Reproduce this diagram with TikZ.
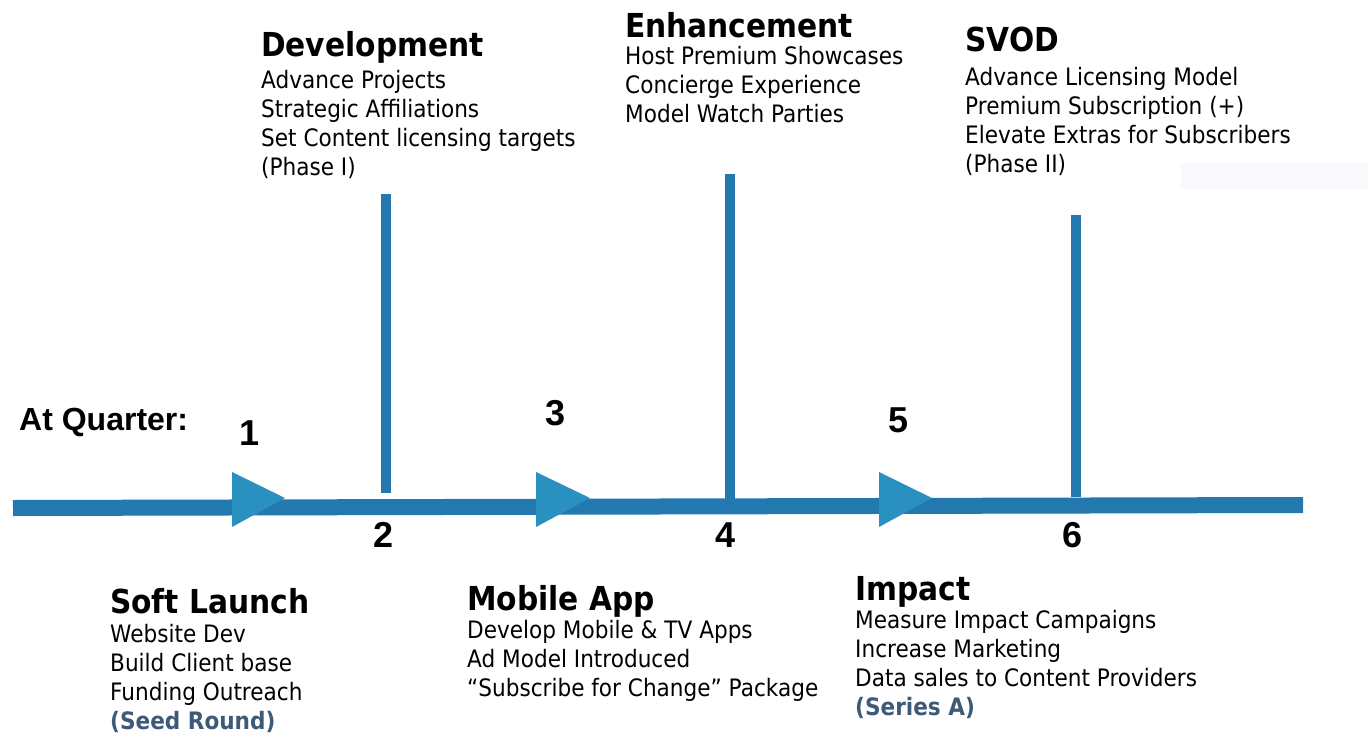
\documentclass[tikz,border=0pt]{standalone}
\usepackage{fontspec}
\setmainfont[FakeStretch=0.9]{DejaVu Sans}
\newfontfamily\numfont{Liberation Sans}

\definecolor{lineblue}{RGB}{35,120,176}
\definecolor{tipblue}{RGB}{42,144,192}
\definecolor{roundblue}{RGB}{61,90,120}
\definecolor{haze}{RGB}{248,249,253}

% stage title and funding line inside a block
\newcommand{\stagehead}[1]{{\fontsize{33}{33}\selectfont\bfseries\rule{0pt}{26pt}#1}}
\newcommand{\funding}[1]{{\bfseries\color{roundblue}#1}}

\begin{document}
\begin{tikzpicture}[x=1pt, y=-1pt,
    block/.style={anchor=north west, align=left, inner sep=0pt, font=\fontsize{24}{29}\selectfont},
    qnum/.style={anchor=base, inner sep=0pt, font=\numfont\bfseries\fontsize{36}{36}\selectfont},
    timeline/.style={lineblue, line width=16pt},
    stem/.style={lineblue, line width=10pt},
    tip/.style={fill=tipblue}]
    \useasboundingbox (0,0) rectangle (1368,733);
    \fill[haze] (1181,163) rectangle (1368,189);

    % the time axis
    \coordinate (start) at (13,508);
    \coordinate (end) at (1303,505);
    \draw[timeline] (start) -- (end);
    \fill[tip] (232,472) -- (285,498) -- (232,527) -- cycle;
    \fill[tip] (536,472) -- (590,498) -- (536,527) -- cycle;
    \fill[tip] (879,472) -- (932,498) -- (879,527) -- cycle;

    % stems up to the even quarters
    \coordinate (top2) at (385.5,194);  \coordinate (foot2) at (385.5,493);
    \coordinate (top4) at (729.5,174);  \coordinate (foot4) at (729.5,500);
    \coordinate (top6) at (1076,215);   \coordinate (foot6) at (1076,497);
    \draw[stem] (top2) -- (foot2);
    \draw[stem] (top4) -- (foot4);
    \draw[stem] (top6) -- (foot6);

    \node[anchor=base west, inner sep=0pt, font=\numfont\bfseries\fontsize{32}{32}\selectfont] (quarter) at (19,430) {At Quarter:};
    \node[qnum] (q1) at (250,445) {1};
    \node[qnum] (q2) at (384,547) {2};
    \node[qnum] (q3) at (556,425) {3};
    \node[qnum] (q4) at (726,547) {4};
    \node[qnum] (q5) at (898,432) {5};
    \node[qnum] (q6) at (1072,547) {6};

    \node[block] (soft) at (110,587) {\stagehead{Soft Launch}\\ Website Dev\\ Build Client base\\ Funding Outreach\\ \funding{(Seed Round)}};
    \node[block] (dev) at (261,30) {\stagehead{Development}\\[3pt] Advance Projects\\ Strategic Affiliations\\ Set Content licensing targets\\ (Phase I)};
    \node[block] (mobile) at (467,584) {\stagehead{Mobile App}\\[-1pt] Develop Mobile \& TV Apps\\ Ad Model Introduced\\ “Subscribe for Change” Package};
    \node[block] (enh) at (625,11) {\stagehead{Enhancement}\\[-2pt] Host Premium Showcases\\ Concierge Experience\\ Model Watch Parties};
    \node[block] (impact) at (855,574) {\stagehead{Impact}\\[-1pt] Measure Impact Campaigns\\ Increase Marketing\\ Data sales to Content Providers\\ \funding{(Series A)}};
    \node[block] (svod) at (965,25) {\stagehead{SVOD}\\[5pt] Advance Licensing Model\\ Premium Subscription (+)\\ Elevate Extras for Subscribers\\ (Phase II)};
\end{tikzpicture}
\end{document}
